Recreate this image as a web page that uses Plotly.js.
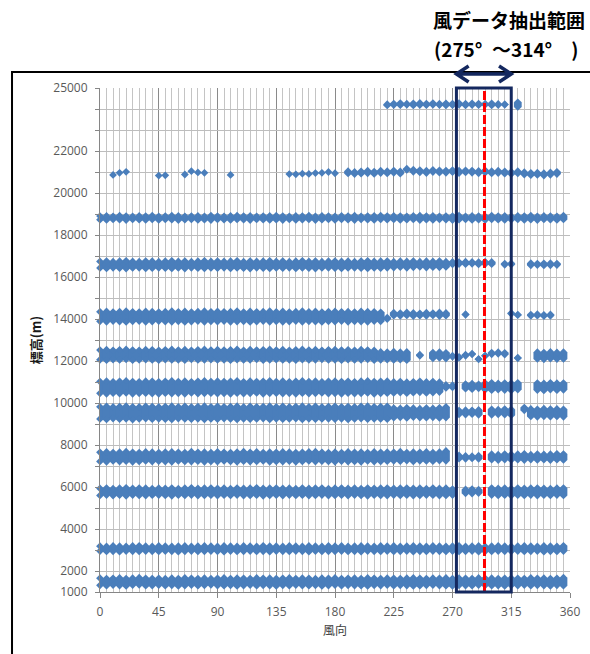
<!DOCTYPE html>
<html>
<head>
<meta charset="utf-8">
<script src="https://cdn.plot.ly/plotly-3.0.1.min.js"></script>
<style>
  html, body { margin: 0; padding: 0; background: #fff; }
  #chart { width: 590px; height: 654px; }
</style>
</head>
<body>
<div id="chart"></div>
<script>
// ---- data ----
const dir = [0,5,10,15,20,25,30,35,40,45,50,55,60,65,70,75,80,85,90,95,100,105,110,115,120,125,130,135,140,145,150,155,160,165,170,175,180,185,190,195,200,205,210,215,220,225,230,235,240,245,250,255,260,265,270,275,280,285,290,295,300,305,310,315,320,325,330,335,340,345,350,355];

const xTickVals = [0,45,90,135,180,225,270,315,360];
const yGridVals = [1000,2000,3000,4000,5000,6000,7000,8000,9000,10000,11000,12000,13000,14000,15000,16000,17000,18000,19000,20000,21000,22000,23000,24000,25000];
const yTickLabels = ['1000','2000','','4000','','6000','','8000','','10000','','12000','','14000','','16000','','18000','','20000','','22000','','','25000'];

const extractRange = [275, 314];   // 風データ抽出範囲
const extractCenter = 294.5;

// lower / upper heights of each observed band (per 5° direction)
const lo1500 = [1320,1300,1330,1310,1290,1330,1340,1300,1310, 1330,1300,1320,1290,1310,1330,1300,1320,1340, 1310,1300,1320,1290,1310,1330,1300,1320,1310, 1290,1320,1300,1330,1310,1300,1320,1290,1310, 1330,1300,1320,1310,1300,1290,1320,1310,1330, 1300,1320,1310,1290,1300,1320,1330,1310,1300, 1290,1320,1310,1300,1330,1320,1300,1310,1290, 1320,1310,1330,1300,1320,1310,1290,1320,1300];
const hi1500 = [1660,1640,1650,1670,1640,1660,1680,1650,1640, 1650,1630,1660,1640,1670,1650,1640,1660,1630, 1650,1670,1640,1660,1650,1640,1670,1650,1660, 1640,1650,1670,1640,1660,1650,1630,1660,1650, 1670,1640,1650,1660,1640,1670,1650,1640,1660, 1650,1640,1660,1670,1650,1640,1660,1650,1670, 1640,1660,1650,1640,1670,1650,1660,1640,1650, 1660,1650,1640,1670,1650,1660,1640,1650,1680];

const lo3000 = [2950,2930,2940,2920,2950,2940,2930,2950,2940, 2930,2950,2940,2920,2940,2950,2930,2940,2950, 2940,2920,2950,2930,2940,2950,2930,2940,2920, 2950,2940,2930,2950,2940,2920,2950,2930,2940, 2940,2950,2930,2940,2920,2950,2940,2930,2950, 2930,2940,2950,2920,2940,2930,2950,2940,2930, 2950,2930,2940,2950,2920,2940,2930,2950,2940, 2940,2950,2930,2940,2950,2920,2940,2930,2950];
const hi3000 = [3180,3170,3190,3180,3170,3190,3200,3180,3170, 3190,3180,3170,3180,3190,3170,3180,3190,3180, 3170,3190,3180,3170,3190,3180,3170,3200,3180, 3180,3170,3190,3180,3170,3190,3180,3170,3190, 3180,3190,3170,3180,3190,3180,3170,3190,3180, 3190,3170,3180,3190,3180,3170,3190,3180,3170, 3180,3190,3170,3180,3190,3170,3180,3190,3180, 3170,3180,3190,3180,3170,3190,3180,3170,3200];

const lo5800 = [5600,5620,5590,5610,5580,5620,5600,5590,5610, 5620,5600,5580,5610,5600,5620,5590,5600,5610, 5590,5610,5600,5620,5590,5600,5610,5580,5600, 5610,5590,5620,5600,5610,5590,5600,5620,5590, 5600,5610,5590,5620,5600,5580,5610,5600,5590, 5620,5600,5610,5590,5600,5620,5610,5590,5600, 5620,null,5700,5690,5710,null,5620,5600,5610, 5590,5610,5600,5620,5590,5610,5600,5620,5600];
const hi5800 = [5930,5950,5920,5940,5960,5930,5950,5940,5920, 5940,5930,5950,5920,5940,5960,5930,5940,5950, 5930,5940,5920,5950,5930,5940,5960,5930,5940, 5950,5930,5940,5920,5950,5930,5940,5950,5920, 5940,5950,5930,5940,5920,5950,5930,5940,5950, 5930,5940,5950,5930,5940,5920,5950,5930,5940, 5900,null,5880,5900,5870,null,5950,5930,5940, 5920,5950,5930,5940,5950,5930,5920,5940,5950];

const lo7400 = [7220,7200,7240,7210,7230,7200,7220,7240,7210, 7230,7210,7200,7240,7220,7210,7230,7200,7220, 7210,7240,7220,7200,7230,7210,7220,7240,7200, 7220,7210,7230,7200,7220,7240,7210,7230,7220, 7200,7230,7210,7220,7200,7240,7210,7220,7230, 7250,7230,7260,7220,7250,7240,7230,7260,7250, null,7350,7340,7360,7340,null,7300,7280,7310, 7290,7300,7280,7310,7290,7300,7280,7300,7290];
const hi7400 = [7650,7670,7640,7660,7680,7650,7640,7670,7660, 7640,7660,7670,7650,7640,7680,7650,7660,7640, 7670,7650,7640,7660,7680,7650,7670,7640,7660, 7650,7670,7660,7640,7650,7670,7680,7650,7640, 7660,7640,7670,7650,7660,7640,7670,7650,7660, 7650,7680,7640,7660,7650,7670,7640,7660,7720, null,7500,7480,7470,7490,null,7560,7540,7570, 7550,7560,7580,7540,7570,7550,7560,7580,7570];

const lo9500 = [9240,9220,9260,9230,9250,9210,9240,9260,9230, 9250,9230,9220,9260,9240,9230,9250,9220,9240, 9230,9260,9240,9220,9250,9230,9240,9260,9220, 9250,9230,9240,9260,9220,9250,9230,9240,9250, 9230,9250,9220,9240,9260,9230,9250,9240,9230, 9300,9320,9290,9330,9310,9300,9320,9290,9310, null,9460,9450,9470,9440,null,9440,9460,9450, 9420,null,9650,9360,9340,9370,9350,9360,9340];
const hi9500 = [9820,9840,9810,9830,9850,9820,9810,9840,9830, 9810,9830,9850,9820,9840,9810,9830,9850,9820, 9840,9820,9830,9850,9810,9840,9820,9830,9850, 9820,9840,9810,9830,9850,9820,9840,9810,9830, 9840,9820,9830,9810,9840,9850,9820,9830,9840, 9760,9740,9770,9750,9730,9760,9740,9770,9810, null,9640,9660,9650,9670,null,9700,9680,9710, 9690,null,9780,9720,9700,9730,9710,9720,9700];

const lo10800 = [10460,10440,10470,10450,10480,10440,10460,10470,10450, 10440,10470,10450,10460,10440,10480,10450,10460,10470, 10450,10460,10440,10470,10450,10460,10480,10440,10460, 10470,10450,10460,10440,10470,10450,10460,10480,10450, 10460,10440,10470,10450,10460,10480,10440,10460,10470, 10480,10500,10470,10490,10510,10480,10500,10520,10720, 10740,null,10680,10660,10700,10630,10610,10640,10620, 10600,10640,null,null,10620,10600,10640,10610,10630];
const hi10800 = [11020,11040,11010,11030,11050,11020,11010,11040,11030, 11010,11030,11050,11020,11040,11010,11030,11050,11020, 11040,11020,11030,11050,11010,11040,11020,11030,11050, 11020,11040,11010,11030,11050,11020,11040,11010,11030, 11040,11020,11030,11010,11040,11050,11020,11030,11040, 11000,11020,10990,11010,11030,11000,11020,10990,10860, 10850,null,10900,10920,10890,10950,10960,10930,10950, 10940,10960,null,null,10950,10930,10960,10940,10950];

const lo12200 = [12060,12040,12070,12050,12080,12040,12060,12070,12050, 12040,12070,12050,12060,12040,12080,12050,12060,12070, 12050,12060,12040,12070,12050,12060,12080,12040,12060, 12070,12050,12060,12040,12070,12050,12060,12080,12050, 12060,12040,12070,12050,12060,12080,12040,12060,12070, 12050,12070,12040,null,12250,null,12130,12150,12120, 12200,12150,12250,12320,12080,12240,12320,12340,12310, null,12130,null,null,12100,12080,12110,12090,12100];
const hi12200 = [12520,12540,12510,12530,12550,12520,12510,12540,12530, 12510,12530,12550,12520,12540,12510,12530,12550,12520, 12540,12520,12530,12550,12510,12540,12520,12530,12550, 12520,12540,12510,12530,12550,12520,12540,12510,12530, 12540,12520,12530,12510,12540,12520,12500,12430,12420, 12440,12420,12430,null,12300,null,12400,12420,12390, 12250,12200,12300,12350,12100,12260,12400,12420,12390, null,12160,null,null,12420,12400,12430,12410,12420];

const lo14100 = [13890,13870,13900,13880,13860,13890,13900,13870,13880, 13900,13880,13870,13890,13860,13880,13900,13870,13890, 13880,13900,13870,13880,13890,13860,13880,13900,13870, 13890,13870,13880,13900,13870,13890,13880,13860,13890, 13880,13900,13870,13890,13880,13870,13900,13890,14000, 14160,14150,14170,14140,14160,14150,14170,14140,14160, null,null,14200,null,null,null,null,null,null, 14250,14180,null,14150,14160,14140,14150,null,null];
const hi14100 = [14340,14360,14330,14350,14370,14340,14330,14360,14350, 14330,14350,14370,14340,14360,14330,14350,14370,14340, 14360,14340,14350,14370,14330,14360,14340,14350,14370, 14340,14360,14330,14350,14370,14340,14360,14330,14350, 14360,14340,14350,14330,14360,14350,14340,14320,14060, 14300,14280,14310,14290,14270,14300,14280,14310,14290, null,null,14230,null,null,null,null,null,null, 14280,14210,null,14210,14230,14200,14220,null,null];

const lo16600 = [16430,16410,16440,16420,16400,16430,16440,16410,16420, 16440,16420,16410,16430,16400,16440,16420,16410,16430, 16420,16440,16410,16430,16420,16400,16440,16420,16410, 16430,16420,16440,16410,16430,16420,16400,16430,16440, 16420,16410,16430,16440,16420,16410,16430,16420,16440, 16450,16470,16440,16460,16480,16450,16470,16460,16480, 16600,16620,16610,16630,16600,16620,16610,null,16580, 16590,null,null,16560,16570,16550,16560,16570,null];
const hi16600 = [16740,16760,16730,16750,16770,16740,16730,16760,16750, 16730,16750,16770,16740,16760,16730,16750,16770,16740, 16760,16740,16750,16770,16730,16760,16740,16750,16770, 16740,16760,16730,16750,16770,16740,16760,16730,16750, 16760,16740,16750,16730,16760,16770,16740,16750,16760, 16730,16750,16740,16760,16730,16750,16740,16760,16730, 16720,16710,16730,16720,16710,16730,16720,null,16640, 16650,null,null,16660,16640,16650,16660,16640,null];

const lo18800 = [18730,18720,18740,18730,18710,18740,18730,18720,18740, 18720,18740,18730,18710,18730,18740,18720,18730,18710, 18740,18730,18720,18740,18730,18710,18740,18730,18720, 18730,18710,18740,18720,18730,18740,18710,18730,18740, 18720,18740,18730,18710,18740,18730,18720,18740,18730, 18740,18720,18730,18740,18710,18730,18720,18740,18730, 18710,18730,18740,18720,18730,18710,18740,18730,18720, 18730,18740,18720,18730,18710,18740,18730,18720,18740];
const hi18800 = [18900,18910,18890,18920,18900,18890,18910,18900,18920, 18890,18900,18920,18910,18890,18900,18910,18890,18920, 18900,18890,18910,18920,18900,18910,18890,18900,18910, 18920,18900,18890,18910,18900,18920,18890,18910,18900, 18890,18910,18900,18920,18890,18900,18910,18920,18900, 18910,18900,18890,18910,18920,18900,18910,18890,18900, 18900,18920,18890,18910,18900,18890,18920,18900,18910, 18890,18910,18900,18920,18890,18910,18900,18890,18920];

const lo20900 = [null,null,20860,20960,21010,null,null,null,null, 20830,20840,null,null,20880,21040,20980,20960,null, null,null,20860,null,null,null,null,null,null, null,null,20900,20890,20920,20910,20950,20960,21000, 20940,null,20930,20900,20920,20940,20910,20950,20930, 20960,20920,21100,21010,20980,20950,21000,20970,20960, 20990,20950,20980,20960,20940,20970,20930,20950,20920, 20900,20930,20880,20850,20860,20830,20870,20900,null];
const hi20900 = [null,null,null,null,null,null,null,null,null, null,null,null,null,null,null,null,null,null, null,null,null,null,null,null,null,null,null, null,null,null,null,null,null,null,null,null, null,null,21040,21000,21030,21060,21020,21060,21040, 21070,21030,21160,21110,21090,21060,21100,21080,21070, 21090,21060,21080,21070,21050,21080,21040,21060,21030, 21010,21040,20990,20960,20970,20940,20980,21010,null];

const lo24200 = [null,null,null,null,null,null,null,null,null, null,null,null,null,null,null,null,null,null, null,null,null,null,null,null,null,null,null, null,null,null,null,null,null,null,null,null, null,null,null,null,null,null,null,null,24170, 24190,24180,24200,24170,24190,24180,24200,24190,24170, 24180,24200,24170,24190,24180,24200,24170,24190,24200, null,24100,null,null,null,null,null,null,null];
const hi24200 = [null,null,null,null,null,null,null,null,null, null,null,null,null,null,null,null,null,null, null,null,null,null,null,null,null,null,null, null,null,null,null,null,null,null,null,null, null,null,null,null,null,null,null,null,24230, 24260,24280,24250,24270,24290,24260,24280,24250,24270, 24260,24280,24250,24270,24260,24250,24270,24240,24230, null,24320,null,null,null,null,null,null,null];

const bands = [
  [lo1500, hi1500], [lo3000, hi3000], [lo5800, hi5800], [lo7400, hi7400],
  [lo9500, hi9500], [lo10800, hi10800], [lo12200, hi12200], [lo14100, hi14100],
  [lo16600, hi16600], [lo18800, hi18800], [lo20900, hi20900], [lo24200, hi24200]
];

// ---- styles ----
const BLUE = '#4a7ebb';
const NAVY = '#14285f';
const MSIZE = 6;                 // diamond size -> ~7.8 px across
const COLW = MSIZE * 1.3;        // column width matching diamond width

const traces = [];
bands.forEach(([lo, hi]) => {
  const up = lo.map((v, i) => (v != null && hi[i] != null) ? hi[i] - v : 0);
  traces.push({
    type: 'scatter', mode: 'markers', x: dir, y: lo, cliponaxis: false,
    marker: {symbol: 'diamond', size: MSIZE, color: BLUE},
    error_y: {type: 'data', symmetric: false, array: up, arrayminus: up.map(() => 0),
              thickness: COLW, width: 0, color: BLUE},
    hoverinfo: 'x+y'
  });
  traces.push({
    type: 'scatter', mode: 'markers', x: dir, y: hi, cliponaxis: false,
    marker: {symbol: 'diamond', size: MSIZE, color: BLUE},
    hoverinfo: 'x+y'
  });
});

// arrow geometry (paper coordinates)
const xl = (extractRange[0] - 2) / 360, xr = (extractRange[1] + 1) / 360;
const ax = 0.026, ay = 0.016, yc = 1.0278;
const arrowPath = `M ${xl+ax},${yc+ay} L ${xl},${yc} L ${xl+ax},${yc-ay} M ${xl},${yc} L ${xr},${yc} M ${xr-ax},${yc+ay} L ${xr},${yc} L ${xr-ax},${yc-ay}`;

const CJK = '"Noto Sans CJK JP", "Noto Sans", sans-serif';
const TICKFONT = {family: '"Open Sans", "Liberation Sans", sans-serif', size: 12, color: '#595959'};

const layout = {
  width: 590, height: 654,
  margin: {l: 100, r: 20, t: 88, b: 62},
  paper_bgcolor: '#ffffff', plot_bgcolor: '#ffffff',
  showlegend: false,
  xaxis: {
    range: [0, 360], tickmode: 'array', tickvals: xTickVals,
    showgrid: true, gridcolor: '#8a8a8a', gridwidth: 1,
    minor: {dtick: 5, tick0: 0, showgrid: true, gridcolor: '#c4c4c4', gridwidth: 1, ticks: ''},
    showline: true, linecolor: '#868686', linewidth: 1,
    ticks: 'outside', ticklen: 5, tickcolor: '#868686',
    zeroline: false, tickfont: TICKFONT, ticklabelstandoff: 4,
    title: {text: '風向', font: {family: CJK, size: 12, color: '#404040'}, standoff: 7}
  },
  yaxis: {
    range: [1000, 25000], tickmode: 'array', tickvals: yGridVals, ticktext: yTickLabels,
    showgrid: true, gridcolor: '#bdbdbd', gridwidth: 1,
    showline: true, linecolor: '#868686', linewidth: 1,
    ticks: 'outside', ticklen: 4, tickcolor: '#868686',
    zeroline: false, tickfont: TICKFONT, ticklabelstandoff: 5,
    title: {text: '標高(m)', font: {family: CJK, size: 13, color: '#1a1a1a', weight: 700}, standoff: 8}
  },
  shapes: [
    {type: 'rect', xref: 'paper', yref: 'paper', x0: -0.1872, x1: 1.08, y0: -0.2, y1: 1.0317,
     line: {color: '#000000', width: 2}, fillcolor: 'rgba(0,0,0,0)', layer: 'above'},
    {type: 'line', xref: 'x', yref: 'paper', x0: extractCenter, x1: extractCenter, y0: 0, y1: 1,
     line: {color: '#ff0000', width: 3, dash: '9px,3px'}, layer: 'above'},
    {type: 'rect', xref: 'x', yref: 'paper', x0: extractRange[0] - 2, x1: extractRange[1] + 1, y0: 0, y1: 1,
     line: {color: NAVY, width: 3}, fillcolor: 'rgba(0,0,0,0)', layer: 'above'},
    {type: 'path', xref: 'paper', yref: 'paper', path: arrowPath,
     line: {color: NAVY, width: 3.5}, layer: 'above'}
  ],
  annotations: [
    {xref: 'paper', yref: 'paper', x: 0.870, y: 1.135, xanchor: 'center', yanchor: 'middle',
     text: '風データ抽出範囲', showarrow: false,
     font: {family: CJK, size: 19, color: '#000000', weight: 700}},
    {xref: 'paper', yref: 'paper', x: 0.7064, y: 1.079, xanchor: 'left', yanchor: 'middle',
     text: '(' + extractRange[0] + '°\u2002～' + extractRange[1] + '°\u3000)', showarrow: false,
     font: {family: CJK, size: 19, color: '#000000', weight: 700}}
  ]
};

Plotly.newPlot('chart', traces, layout, {displayModeBar: false, staticPlot: true});
</script>
</body>
</html>
